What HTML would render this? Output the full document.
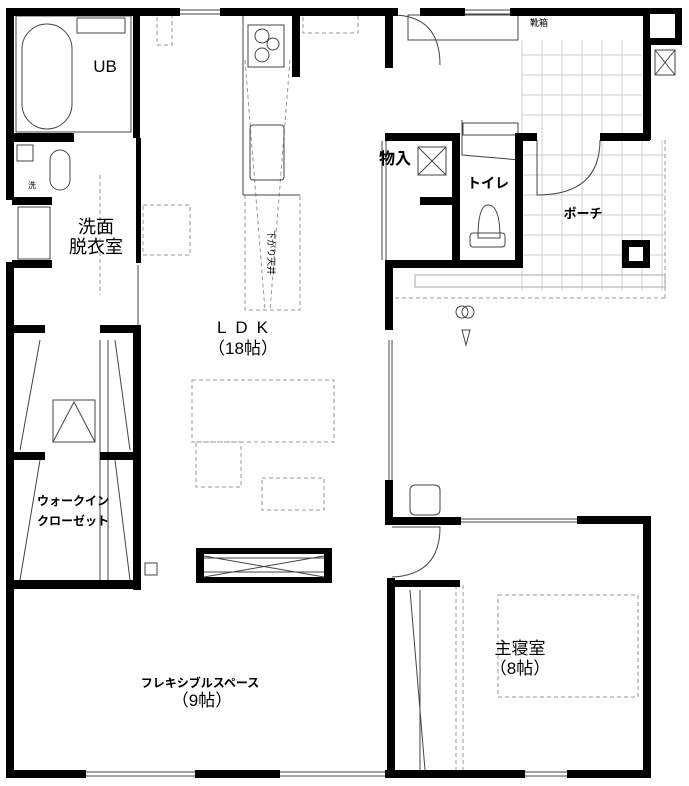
<!DOCTYPE html>
<html><head><meta charset="utf-8"><style>
html,body{margin:0;padding:0;background:#fff}
svg{display:block}
text{font-family:"Liberation Sans","Noto Sans CJK JP",sans-serif;fill:#000}
</style></head><body>
<svg width="689" height="786" viewBox="0 0 689 786" xmlns="http://www.w3.org/2000/svg">
<g stroke="#ccc" stroke-width="1">
<path d="M522 40V290M542 40V290M562 40V290M582 40V290M602 40V290M622 40V290M642 140V290M662 140V290"/>
<path d="M522 55H642M522 75H642M522 95H642M522 115H642M522 155H665M522 175H665M522 195H665M522 215H665M522 235H665M522 255H665M522 275H665"/>
</g>
<rect x="415" y="275" width="250" height="12" fill="none" stroke="#aaa"/>
<g fill="none" stroke="#999" stroke-dasharray="4,3" stroke-width="1">
<rect x="157" y="15" width="15" height="30"/><rect x="143" y="205" width="47" height="50"/>
<rect x="245" y="195" width="55" height="115"/><line x1="245" y1="60" x2="265" y2="310"/><line x1="290" y1="60" x2="270" y2="310"/>
<rect x="303" y="15" width="55" height="18"/>
<rect x="192" y="380" width="142" height="62"/><rect x="196" y="442" width="45" height="45"/><rect x="262" y="478" width="62" height="32"/>
<rect x="498" y="595" width="140" height="102"/>
<line x1="395" y1="298" x2="665" y2="298"/><line x1="665" y1="140" x2="665" y2="298"/>
<line x1="456" y1="585" x2="456" y2="770"/><line x1="463" y1="585" x2="463" y2="770"/>
<line x1="100" y1="175" x2="100" y2="295"/>
</g>
<g fill="none" stroke="#444" stroke-width="1">
<rect x="16" y="16" width="115" height="116"/><rect x="22" y="24" width="50" height="105" rx="25"/>
<rect x="77" y="18" width="48" height="15"/>
<rect x="248" y="25" width="36" height="42"/><circle cx="262" cy="36" r="7"/><circle cx="273" cy="44" r="6"/><circle cx="262" cy="55" r="7"/>
<rect x="250" y="125" width="34" height="55" rx="3"/>
<line x1="243" y1="15" x2="243" y2="195"/><line x1="243" y1="195" x2="300" y2="195"/>
<rect x="17" y="145" width="16" height="16"/><rect x="50" y="150" width="20" height="40" rx="10"/>
<rect x="18" y="207" width="32" height="52"/>
<path d="M392 15V65M392 15Q440 15 440 65"/>
<rect x="408" y="15" width="110" height="25"/>
<path d="M537 140V195Q600 195 600 140"/>
<path d="M462 120V155L520 160"/>
<rect x="418" y="147" width="28" height="28"/><path d="M418 147L446 175M446 147L418 175"/>
<rect x="463" y="123" width="55" height="12"/>
<path d="M478 238Q478 205 488 205Q500 205 500 238Z"/><rect x="470" y="233" width="35" height="14" rx="3"/>
<rect x="655" y="50" width="20" height="25"/><path d="M655 50L675 75M675 50L655 75"/>
<circle cx="462" cy="312" r="6"/><circle cx="468" cy="312" r="6"/><path d="M462 330L466 345L470 330Z"/>
<rect x="410" y="485" width="30" height="30" rx="5"/>
<path d="M392 527H440Q440 575 392 577"/>
<path d="M100 340V580M108 340V580M40 340L20 450M115 340L130 450M40 460L20 580M115 460L130 580"/>
<rect x="53" y="400" width="42" height="42"/><path d="M53 442L74 402L95 442"/>
<rect x="145" y="563" width="12" height="12"/>
<path d="M410 590L425 770M420 590V770"/>
<path d="M382 141V260M386 141V260"/>
</g>
<g fill="#000">
<rect x="8" y="8" width="172" height="8"/><rect x="220" y="8" width="178" height="8"/><rect x="420" y="8" width="45" height="8"/><rect x="510" y="8" width="140" height="8"/>
<rect x="6" y="8" width="8" height="192"/><rect x="6" y="262" width="8" height="516"/>
<rect x="133" y="8" width="7" height="130"/><rect x="136" y="138" width="5" height="125"/>
<rect x="12" y="133" width="62" height="9"/>
<rect x="12" y="197" width="40" height="8"/><rect x="12" y="260" width="40" height="8"/>
<rect x="292" y="15" width="8" height="62"/>
<rect x="385" y="8" width="8" height="60"/><rect x="385" y="133" width="8" height="8"/><rect x="385" y="260" width="8" height="70"/>
<rect x="390" y="133" width="70" height="8"/><rect x="452" y="133" width="8" height="135"/><rect x="515" y="133" width="8" height="135"/>
<rect x="390" y="260" width="133" height="8"/><rect x="420" y="197" width="32" height="8"/>
<rect x="643" y="8" width="8" height="132"/><rect x="600" y="133" width="50" height="8"/><rect x="517" y="133" width="20" height="8"/>
<rect x="643" y="8" width="39" height="37"/>
<rect x="622" y="240" width="28" height="28"/>
<rect x="12" y="325" width="33" height="8"/><rect x="100" y="325" width="40" height="8"/>
<rect x="12" y="452" width="33" height="8"/><rect x="100" y="452" width="40" height="8"/>
<rect x="133" y="325" width="8" height="265"/><rect x="6" y="580" width="135" height="9"/>
<rect x="196" y="548" width="136" height="35"/>
<rect x="385" y="480" width="8" height="45"/><rect x="385" y="517" width="76" height="8"/><rect x="577" y="516" width="73" height="8"/>
<rect x="643" y="516" width="8" height="262"/>
<rect x="387" y="578" width="8" height="200"/><rect x="387" y="580" width="73" height="7"/>
<rect x="6" y="770" width="80" height="8"/><rect x="195" y="770" width="85" height="8"/><rect x="385" y="770" width="140" height="8"/><rect x="567" y="770" width="84" height="8"/>
</g>
<g fill="#fff">
<rect x="650" y="14" width="25" height="24"/><rect x="629" y="247" width="14" height="14"/>
<rect x="204" y="554" width="120" height="23"/>
</g>
<g fill="none" stroke="#444" stroke-width="1">
<path d="M204 558H324M204 572H324M204 556L324 577M324 556L204 577"/>
<path d="M180 10H220M180 14H220M465 10H510M465 14H510M461 519H577M461 522H577M86 772H195M86 776H195M280 772H385M280 776H385M525 772H567M525 776H567"/>
<path d="M389 340V480M392 340V480M138 265V325"/>
</g>
<text x="105" y="72" font-size="17" text-anchor="middle">UB</text>
<text x="96" y="233" font-size="18" text-anchor="middle">洗面</text>
<text x="96" y="253" font-size="18" text-anchor="middle">脱衣室</text>
<text x="28" y="188" font-size="8">洗</text>
<text x="530" y="26" font-size="9">靴箱</text>
<text x="379" y="164" font-size="16" font-weight="bold">物入</text>
<text x="488" y="188" font-size="14" font-weight="bold" text-anchor="middle">トイレ</text>
<text x="583" y="218" font-size="13" font-weight="bold" text-anchor="middle">ポーチ</text>
<text x="247" y="333" font-size="17" text-anchor="middle" letter-spacing="9">LDK</text>
<text x="243" y="354" font-size="17" text-anchor="middle">（18帖）</text>
<text x="73" y="505" font-size="12" font-weight="bold" text-anchor="middle">ウォークイン</text>
<text x="73" y="525" font-size="12" font-weight="bold" text-anchor="middle">クローゼット</text>
<text x="200" y="687" font-size="12" font-weight="bold" text-anchor="middle">フレキシブルスペース</text>
<text x="202" y="706" font-size="17" text-anchor="middle">（9帖）</text>
<text x="520" y="654" font-size="17" text-anchor="middle">主寝室</text>
<text x="520" y="674" font-size="17" text-anchor="middle">（8帖）</text>
<text x="268" y="230" font-size="9" transform="rotate(90 268 230)">下がり天井</text>
</svg>
</body></html>
